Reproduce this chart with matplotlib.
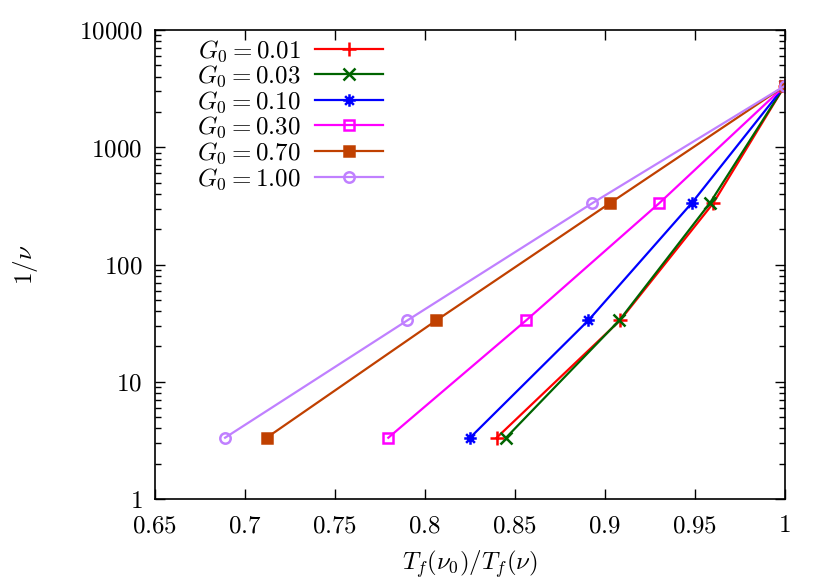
import numpy as np
import matplotlib
matplotlib.use("Agg")
import matplotlib.pyplot as plt
from matplotlib.path import Path
from matplotlib.ticker import FixedLocator, NullFormatter, LogLocator

plt.rcParams['mathtext.fontset'] = 'cm'
plt.rcParams['font.family'] = 'serif'
plt.rcParams['font.serif'] = ['DejaVu Serif']

# data
inv_nu = [3.333, 33.33, 333.3, 3333.3]
labels = ["0.01", "0.03", "0.10", "0.30", "0.70", "1.00"]
x_001 = [0.8400, 0.9085, 0.9603, 1.0]
x_003 = [0.8452, 0.9081, 0.9584, 1.0]
x_010 = [0.8252, 0.8909, 0.9483, 1.0]
x_030 = [0.7798, 0.8563, 0.9303, 1.0]
x_070 = [0.7122, 0.8064, 0.9029, 1.0]
x_100 = [0.6891, 0.7903, 0.8931, 1.0]
xticks = [0.65, 0.7, 0.75, 0.8, 0.85, 0.9, 0.95, 1.0]
xticklabels = ["0.65", "0.7", "0.75", "0.8", "0.85", "0.9", "0.95", "1"]
yticks = [1, 10, 100, 1000, 10000]

# gnuplot style star: plus and cross together
star = Path([(-1, 0), (1, 0), (0, -1), (0, 1), (-0.7, -0.7), (0.7, 0.7), (-0.7, 0.7), (0.7, -0.7)],
            [Path.MOVETO, Path.LINETO] * 4)

styles = [
    (x_001, "#ff0000", "+", "#ff0000", 10),
    (x_003, "#006400", "x", "#006400", 8),
    (x_010, "#0000ff", star, "#0000ff", 9),
    (x_030, "#ff00ff", "s", "none", 7.5),
    (x_070, "#c04000", "s", "#c04000", 7.5),
    (x_100, "#c080ff", "o", "none", 7.5),
]

fig = plt.figure(figsize=(8.3, 5.81), dpi=100)
ax = fig.add_axes([0.1864, 0.1411, 0.9454 - 0.1864, 0.9484 - 0.1411])

for (xs, c, m, fc, ms), lab in zip(styles, labels):
    ax.plot(xs, inv_nu, color=c, lw=1.6, marker=m, markersize=ms,
            markerfacecolor=fc, markeredgecolor=c, markeredgewidth=1.8,
            label=r"$G_0 = %s$" % lab)

ax.set_yscale('log')
ax.set_xlim(0.65, 1.0)
ax.set_ylim(1, 10000)
ax.xaxis.set_major_locator(FixedLocator(xticks))
ax.set_xticklabels(["$%s$" % t for t in xticklabels])
ax.yaxis.set_major_locator(FixedLocator(yticks))
ax.set_yticklabels(["$%d$" % t for t in yticks])
ax.yaxis.set_minor_locator(LogLocator(base=10, subs=np.arange(2, 10)))
ax.yaxis.set_minor_formatter(NullFormatter())
ax.tick_params(which='both', direction='in', top=True, right=True, labelsize=18)
ax.tick_params(axis='x', pad=11)
ax.tick_params(axis='y', pad=9)
ax.tick_params(which='major', length=7, width=1)
ax.tick_params(which='minor', length=4, width=1)
for s in ax.spines.values():
    s.set_linewidth(1.2)

ax.set_xlabel(r"$T_f(\nu_0)/T_f(\nu)$", fontsize=18, labelpad=8)
ax.set_ylabel(r"$1/\nu$", fontsize=18, labelpad=28)

ax.legend(loc='upper left', bbox_to_anchor=(0.035, 1.025), frameon=False, markerfirst=False,
          fontsize=18, handlelength=2.7, labelspacing=0.0, handletextpad=0.6, borderpad=0.3)

fig.savefig("out.png", dpi=100)
